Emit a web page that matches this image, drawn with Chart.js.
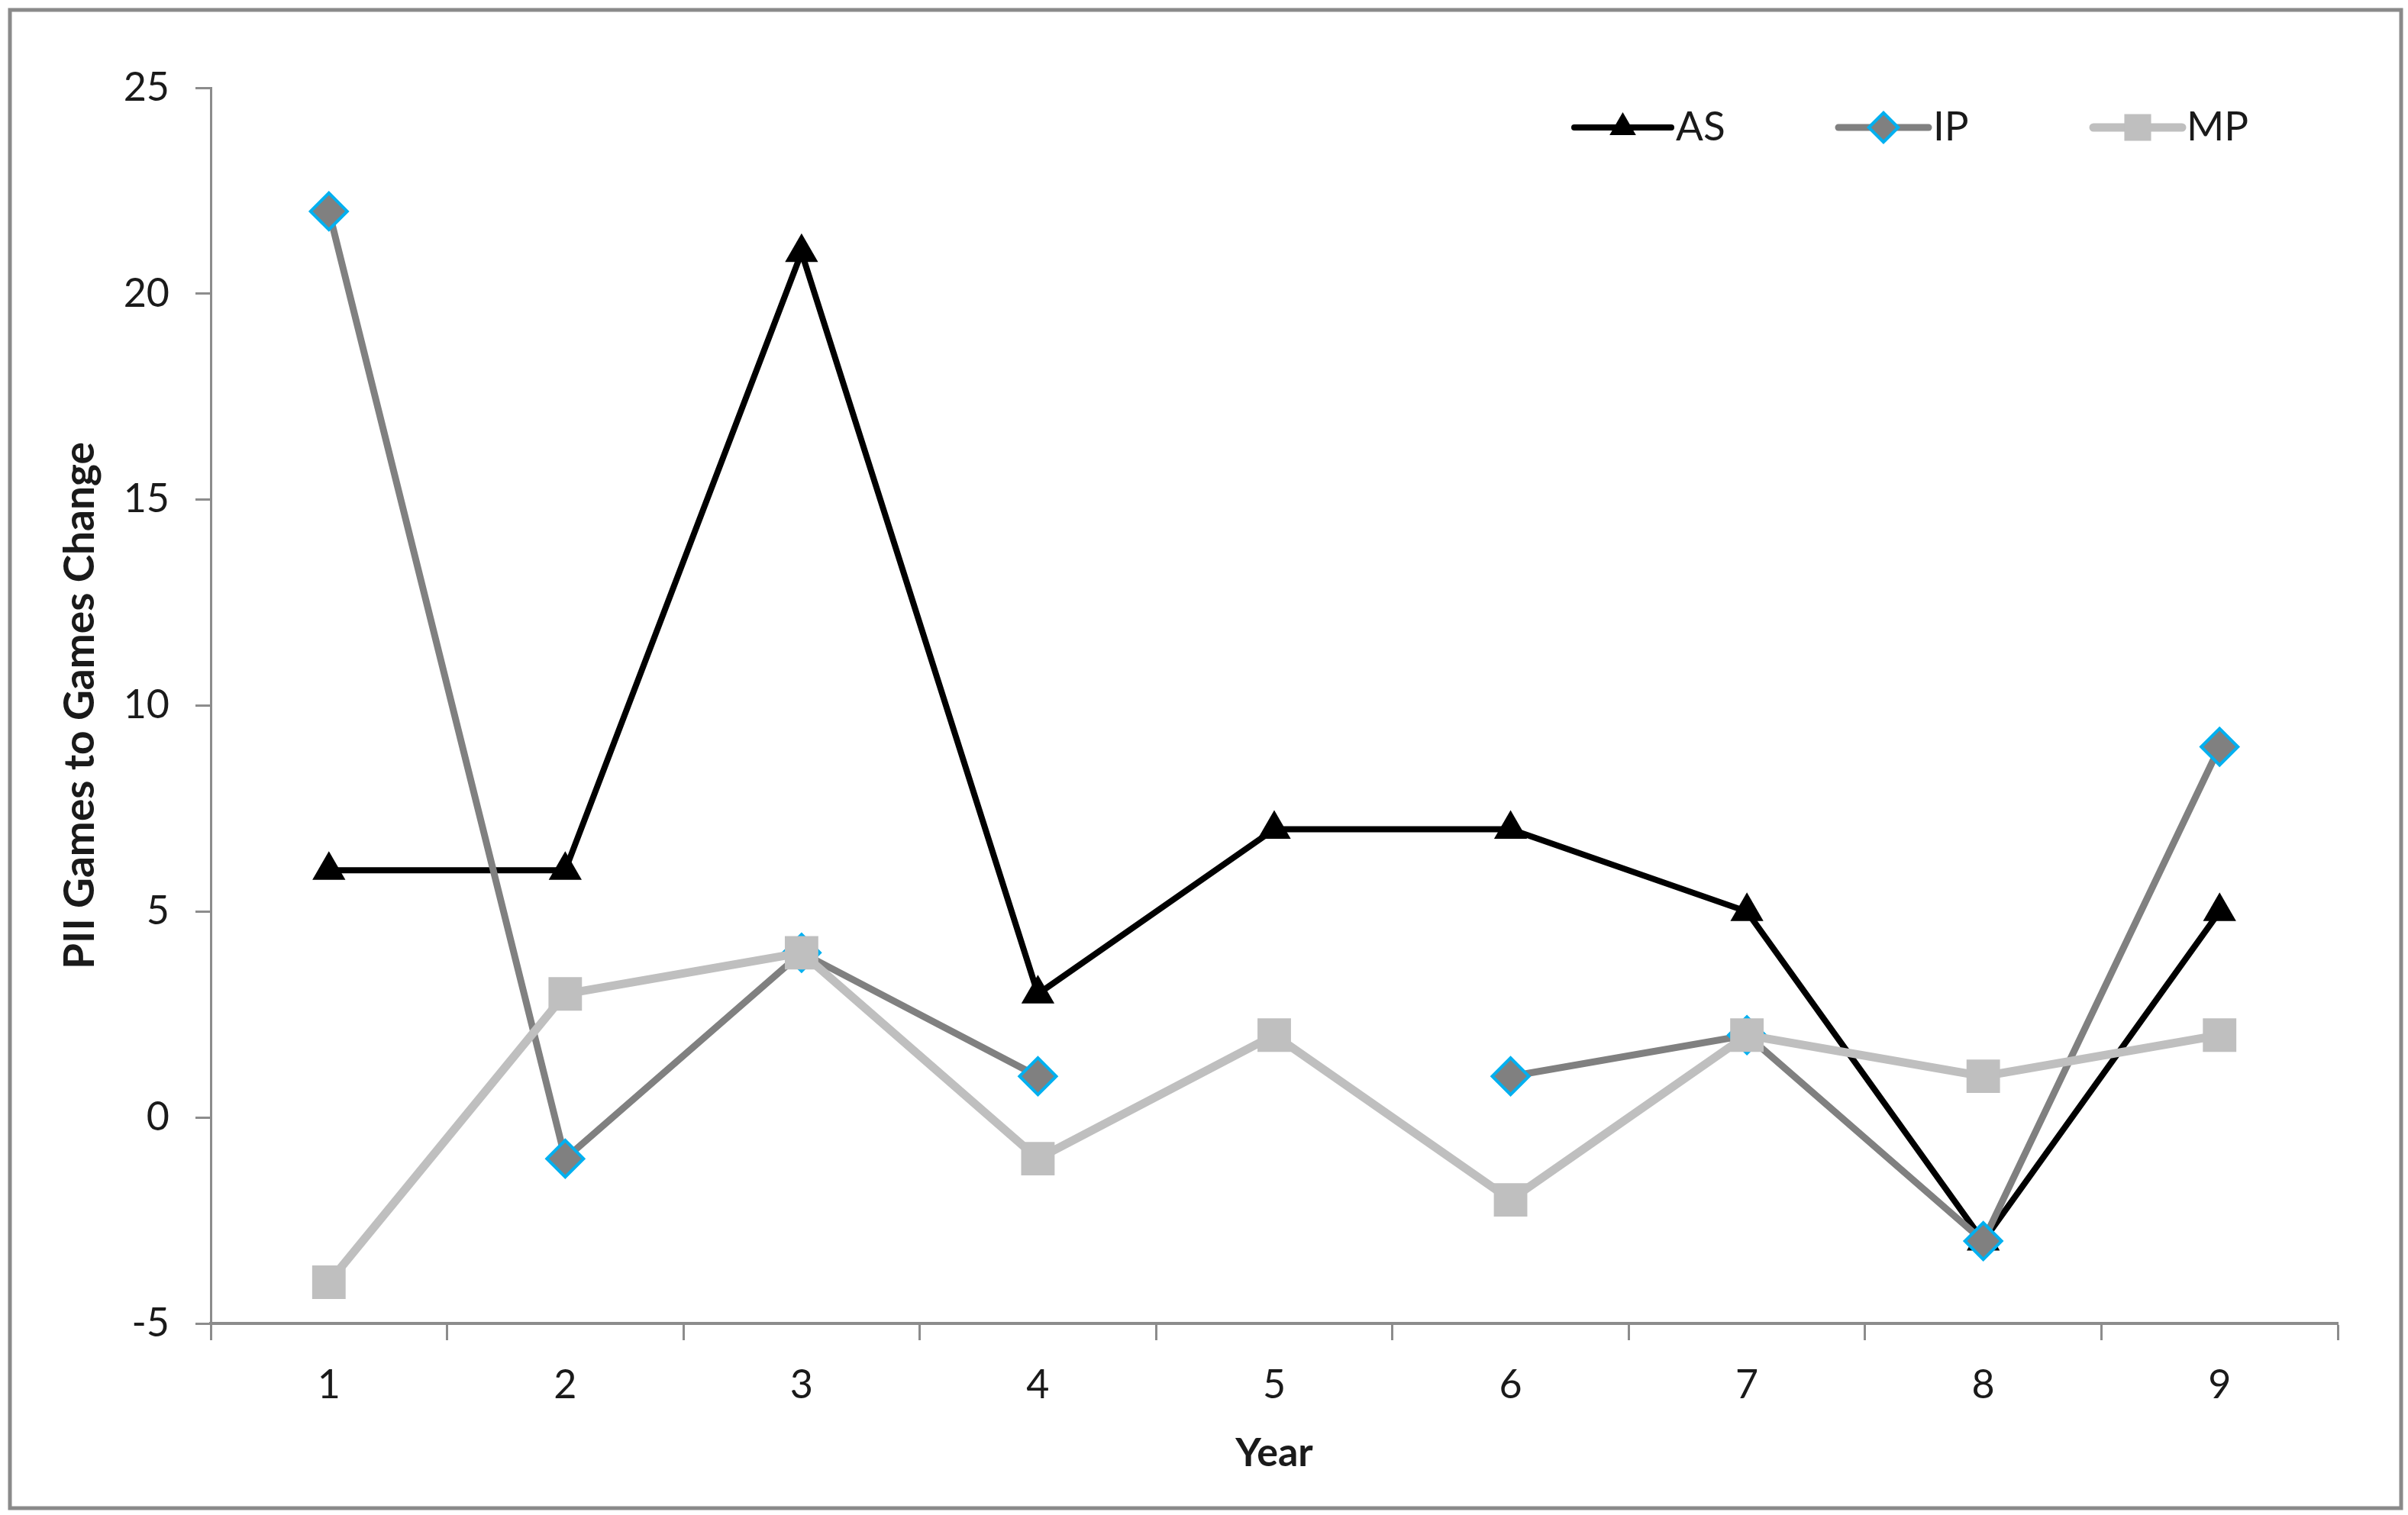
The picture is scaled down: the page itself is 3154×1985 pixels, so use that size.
<!DOCTYPE html>
<html>
<head>
<meta charset="utf-8">
<script src="https://cdn.jsdelivr.net/npm/chart.js@4"></script>
<style>
  html, body { margin: 0; padding: 0; background: #fff; overflow: hidden; }
  #chart { display: block; }
</style>
</head>
<body>
<canvas id="chart" width="3154" height="1985"></canvas>
<script>
const years = ['1', '2', '3', '4', '5', '6', '7', '8', '9'];
const asValues = [6, 6, 21, 3, 7, 7, 5, -3, 5];
const ipValues = [22, -1, 4, 1, null, 1, 2, -3, 9];
const mpValues = [-4, 3, 4, -1, 2, -2, 2, 1, 2];
const yTicks = [-5, 0, 5, 10, 15, 20, 25];

const FONT = 'Lato, "Open Sans", sans-serif';
const axisGray = '#8c8c8c';

// frame round the whole picture
const framePlugin = {
    id: 'frame',
    beforeDraw(chart) {
        const ctx = chart.ctx;
        ctx.save();
        ctx.fillStyle = '#fff';
        ctx.fillRect(0, 0, chart.width, chart.height);
        ctx.strokeStyle = '#8a8a8a';
        ctx.lineWidth = 5;
        ctx.strokeRect(13, 13, chart.width - 22, chart.height - 22);
        ctx.restore();
    }
};

// legend drawn inside the plot, top right
const insideLegend = {
    id: 'insideLegend',
    afterDraw(chart, args, opts) {
        const ctx = chart.ctx;
        ctx.save();
        chart.data.datasets.forEach((ds, i) => {
            const it = opts.items[i];
            ctx.strokeStyle = ds.borderColor;
            ctx.lineWidth = ds.borderWidth;
            ctx.lineCap = 'round';
            ctx.beginPath();
            ctx.moveTo(it.x0, opts.y);
            ctx.lineTo(it.x1, opts.y);
            ctx.stroke();
            ctx.lineCap = 'butt';
            ctx.fillStyle = ds.pointBackgroundColor;
            ctx.strokeStyle = ds.pointBorderColor;
            ctx.lineWidth = ds.pointBorderWidth;
            Chart.helpers.drawPoint(ctx, {
                pointStyle: ds.pointStyle,
                radius: ds.pointRadius * 0.8,
                borderWidth: ds.pointBorderWidth,
                rotation: 0
            }, (it.x0 + it.x1) / 2, opts.y);
            ctx.fillStyle = '#1a1a1a';
            ctx.font = '53px ' + FONT;
            ctx.textBaseline = 'middle';
            ctx.fillText(ds.label, it.x1 + 6, opts.y);
        });
        ctx.restore();
    }
};

Chart.defaults.font.family = FONT;
Chart.defaults.color = '#1a1a1a';

new Chart(document.getElementById('chart'), {
    type: 'line',
    data: {
        labels: years,
        datasets: [
            {
                label: 'AS', data: asValues, order: 3,
                borderColor: '#000', borderWidth: 8,
                pointStyle: 'triangle', pointRadius: 25,
                pointBackgroundColor: '#000', pointBorderColor: '#000', pointBorderWidth: 0
            },
            {
                label: 'IP', data: ipValues, order: 2,
                borderColor: '#808080', borderWidth: 9,
                pointStyle: 'rectRot', pointRadius: 24,
                pointBackgroundColor: '#808080', pointBorderColor: '#00b0f0', pointBorderWidth: 4
            },
            {
                label: 'MP', data: mpValues, order: 1,
                borderColor: '#bfbfbf', borderWidth: 11,
                pointStyle: 'rect', pointRadius: 31,
                pointBackgroundColor: '#bfbfbf', pointBorderColor: '#bfbfbf', pointBorderWidth: 0
            }
        ]
    },
    options: {
        responsive: false,
        devicePixelRatio: 1,
        animation: false,
        events: [],
        layout: { padding: { left: 0, top: 115, right: 92, bottom: 0 } },
        plugins: {
            legend: { display: false },
            tooltip: { enabled: false },
            insideLegend: {
                y: 167,
                items: [
                    { x0: 2062, x1: 2189 },
                    { x0: 2408, x1: 2526 },
                    { x0: 2742, x1: 2858 }
                ]
            }
        },
        scales: {
            x: {
                offset: true,
                afterFit: s => { s.height = 251; },
                grid: {
                    offset: true, drawOnChartArea: false, drawTicks: true,
                    tickLength: 22, tickWidth: 3, tickColor: axisGray
                },
                border: { color: axisGray, width: 4 },
                ticks: { font: { size: 52 }, padding: 28, maxRotation: 0 },
                title: {
                    display: true, text: 'Year',
                    font: { size: 52, weight: 'bold' },
                    padding: { top: 0, bottom: 50 }
                }
            },
            y: {
                min: -5, max: 25,
                afterFit: s => { s.width = 276; },
                afterBuildTicks: s => { s.ticks = yTicks.map(v => ({ value: v })); },
                grid: {
                    drawOnChartArea: false, drawTicks: true,
                    tickLength: 20, tickWidth: 3, tickColor: axisGray
                },
                border: { color: axisGray, width: 3 },
                ticks: { font: { size: 52 }, padding: 34 },
                title: {
                    display: true, text: 'PII Games to Games Change',
                    font: { size: 55, weight: 'bold' },
                    padding: { top: 72, bottom: 0 }
                }
            }
        }
    },
    plugins: [framePlugin, insideLegend]
});
</script>
</body>
</html>
